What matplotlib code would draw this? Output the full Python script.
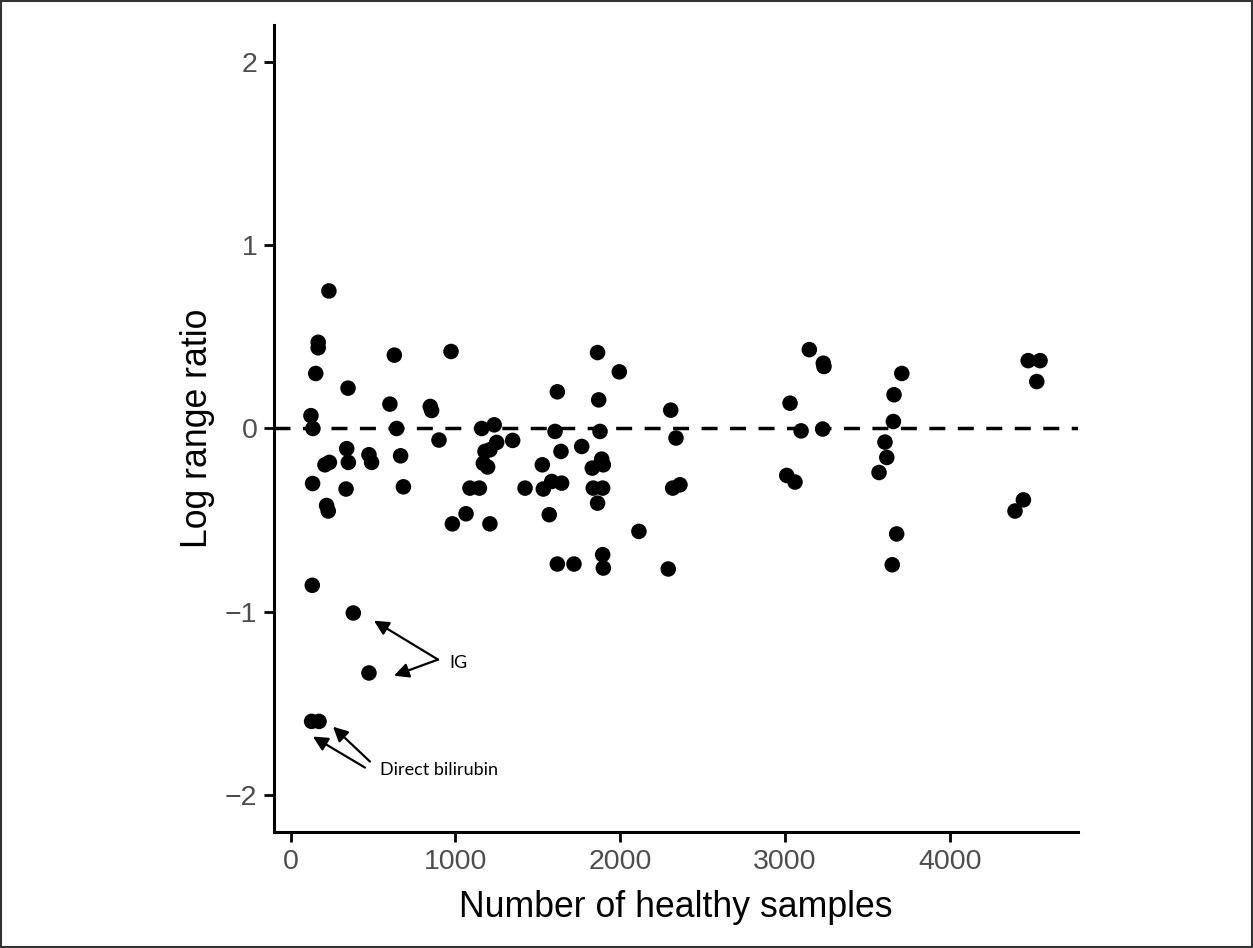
import matplotlib.pyplot as plt
from matplotlib.patches import Rectangle

# number of healthy samples per analyte
n_healthy = [232, 167, 167, 152, 123, 135, 348, 133, 208, 235, 218, 228, 340, 350, 336,
             475, 491, 602, 629, 643, 667, 684, 847, 855, 900, 973, 981, 1064, 1088, 1145,
             1159, 1235, 1250, 1347, 1179, 1209, 1169, 1195, 1209, 1422, 1527, 1533, 1569,
             1584, 1604, 1618, 1640, 1644, 1618, 1719, 1766, 1830, 1836, 1862, 1862, 1869,
             1877, 1887, 1893, 1893, 1897, 1897, 1994, 2113, 2291, 2306, 2318, 2338, 2362,
             3010, 3030, 3060, 3097, 3147, 3228, 3232, 3236, 3570, 3606, 3617, 3650, 3657,
             3661, 3677, 3708, 4395, 4446, 4475, 4547, 4527,
             131, 380, 475, 127, 172]
# log range ratio
log_ratio = [0.75, 0.47, 0.44, 0.30, 0.07, 0.00, 0.22, -0.30, -0.198, -0.185, -0.42, -0.45,
             -0.11, -0.185, -0.33, -0.143, -0.185, 0.133, 0.40, 0.0, -0.149, -0.318, 0.12,
             0.098, -0.063, 0.42, -0.52, -0.465, -0.325, -0.325, 0.0, 0.02, -0.076, -0.065,
             -0.125, -0.116, -0.19, -0.21, -0.52, -0.325, -0.198, -0.33, -0.47, -0.289,
             -0.016, 0.20, -0.125, -0.298, -0.739, -0.739, -0.098, -0.216, -0.325, 0.414,
             -0.407, 0.156, -0.016, -0.167, -0.325, -0.688, -0.198, -0.761, 0.309, -0.561,
             -0.766, 0.10, -0.325, -0.052, -0.307, -0.256, 0.138, -0.292, -0.013, 0.43,
             -0.003, 0.356, 0.338, -0.24, -0.074, -0.158, -0.743, 0.038, 0.184, -0.575, 0.30,
             -0.45, -0.389, 0.37, 0.37, 0.256,
             -0.855, -1.006, -1.333, -1.597, -1.597]

plt.rcParams['font.family'] = ['Liberation Sans', 'DejaVu Sans']

fig = plt.figure(figsize=(12.53, 9.48), dpi=100)
ax = fig.add_axes([0.2187, 0.1224, 0.6416, 0.8512])

ax.axhline(0, color='black', lw=2.5, dashes=(4.6, 3.6), zorder=1)
ax.scatter(n_healthy, log_ratio, s=125, color='black', edgecolors='none', zorder=3)

ax.set_xlim(-101, 4777)
ax.set_ylim(-2.2, 2.2)
ax.set_xticks([0, 1000, 2000, 3000, 4000])
ax.set_yticks([-2, -1, 0, 1, 2])
ax.set_yticklabels(['\u22122', '\u22121', '0', '1', '2'])

for side in ['top', 'right']:
    ax.spines[side].set_visible(False)
for side in ['left', 'bottom']:
    ax.spines[side].set_linewidth(2.2)
ax.tick_params(length=7, width=2.0, color='black', labelsize=20.5, labelcolor='#4D4D4D', pad=5)

ax.set_xlabel('Number of healthy samples', fontsize=25.7, labelpad=11)
ax.set_ylabel('Log range ratio', fontsize=25.7, labelpad=7)

# annotations
arrow = dict(arrowstyle='-|>', color='black', lw=1.6, mutation_scale=22, shrinkA=0, shrinkB=0)
ax.annotate('', xy=(505, -1.048), xytext=(894, -1.26), arrowprops=arrow)
ax.annotate('', xy=(627, -1.348), xytext=(894, -1.26), arrowprops=arrow)
ax.text(960, -1.277, 'IG', fontsize=13, family=['Lato', 'DejaVu Sans'], va='center', ha='left')

ax.annotate('', xy=(257, -1.626), xytext=(481, -1.816), arrowprops=arrow)
ax.annotate('', xy=(135, -1.68), xytext=(451, -1.849), arrowprops=arrow)
ax.text(542, -1.86, 'Direct bilirubin', fontsize=13, family=['Lato', 'DejaVu Sans'],
        va='center', ha='left')

fig.patches.append(Rectangle((0.001, 0.001), 0.998, 0.998, transform=fig.transFigure,
                             fill=False, edgecolor='#333333', lw=1.5))

fig.savefig('out.png', dpi=100)
